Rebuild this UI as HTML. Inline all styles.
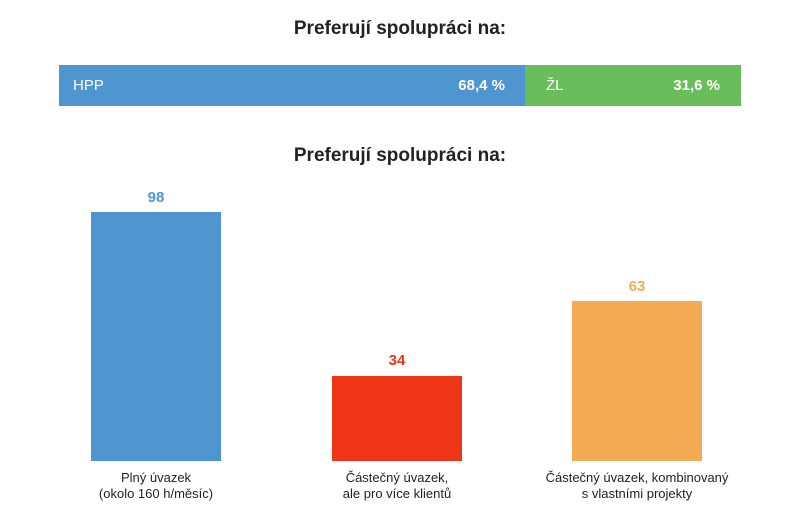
<!DOCTYPE html>
<html><head><meta charset="utf-8"><style>
body{margin:0;width:800px;height:520px;background:#fff;font-family:"Liberation Sans",sans-serif;position:relative;overflow:hidden;color:#222}
.a{position:absolute}
.t{left:0;width:800px;text-align:center;font-size:19px;font-weight:bold;color:#222}
.w{color:#fff;font-size:15px}
.v{font-size:15px;font-weight:bold;text-align:center;width:130px}
.l{font-size:13px;text-align:center;width:240px;line-height:16px;color:#222}
</style></head><body>
<div class="a t" style="top:18px">Preferují spolupráci na:</div>
<div class="a" style="left:59px;top:65px;width:466px;height:41px;background:#4f96d1"></div>
<div class="a" style="left:525px;top:65px;width:216px;height:41px;background:#6abd5b"></div>
<div class="a w" style="left:73px;top:77px">HPP</div>
<div class="a w" style="left:405px;width:100px;text-align:right;top:77px;font-weight:bold">68,4 %</div>
<div class="a w" style="left:546px;top:77px">ŽL</div>
<div class="a w" style="left:620px;width:100px;text-align:right;top:77px;font-weight:bold">31,6 %</div>
<div class="a t" style="top:145px">Preferují spolupráci na:</div>
<div class="a" style="left:91px;top:212px;width:130px;height:249px;background:#4f96d1"></div>
<div class="a" style="left:332px;top:376px;width:130px;height:85px;background:#ee3517"></div>
<div class="a" style="left:572px;top:301px;width:130px;height:160px;background:#f4a953"></div>
<div class="a v" style="left:91px;top:189px;color:#4f96d1">98</div>
<div class="a v" style="left:332px;top:352px;color:#ee3517">34</div>
<div class="a v" style="left:572px;top:278px;color:#f4a953">63</div>
<div class="a l" style="left:36px;top:470px">Plný úvazek<br>(okolo 160 h/měsíc)</div>
<div class="a l" style="left:277px;top:470px">Částečný úvazek,<br>ale pro více klientů</div>
<div class="a l" style="left:517px;top:470px">Částečný úvazek, kombinovaný<br>s vlastními projekty</div>
</body></html>
